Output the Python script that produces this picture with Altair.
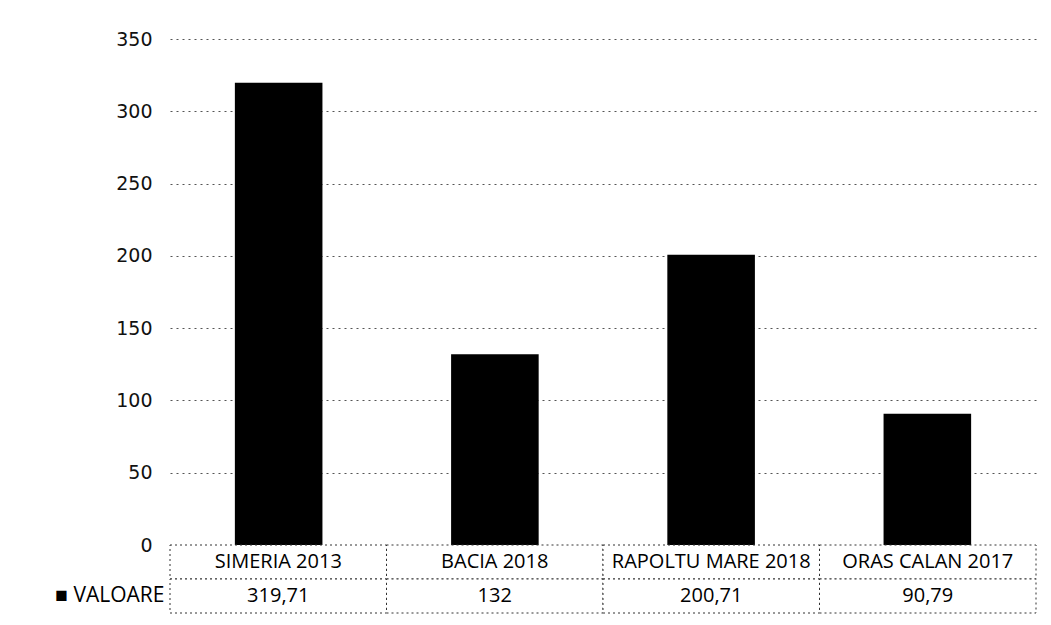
import altair as alt
import pandas as pd

categories = ["SIMERIA 2013", "BACIA 2018", "RAPOLTU MARE 2018", "ORAS CALAN 2017"]
values = [319.71, 132, 200.71, 90.79]
value_labels = ["319,71", "132", "200,71", "90,79"]
y_ticks = [0, 50, 100, 150, 200, 250, 300, 350]
series_name = "VALOARE"

FONT = "Liberation Sans Narrow, Open Sans, sans-serif"
NOVIEW = alt.ViewBackground(stroke="transparent", strokeWidth=0)

bars_df = pd.DataFrame({"cat": categories, "val": values})

xscale = alt.Scale(domain=categories, paddingInner=0.595, paddingOuter=0.3)

bars = alt.Chart(bars_df).mark_bar(color="#000000").encode(
    x=alt.X("cat:N", scale=xscale, axis=None, sort=categories),
    y=alt.Y("val:Q", scale=alt.Scale(domain=[0, 350], nice=False),
            axis=alt.Axis(values=y_ticks, title=None, ticks=False, domain=False,
                          labelFontSize=19, labelColor="#111", labelFont="DejaVu Sans",
                          labelPadding=18, grid=True, gridColor="#555",
                          gridDash=[2, 4], gridWidth=1)),
).properties(width=866, height=506, view=NOVIEW)

rows = []
for c, lab in zip(categories, value_labels):
    rows.append({"cat": c, "row": "cat", "txt": c})
    rows.append({"cat": c, "row": "val", "txt": lab})
table_df = pd.DataFrame(rows)

row_label_expr = "datum.value == 'val' ? '\u25A0 " + series_name + "' : ''"

tscale = alt.Scale(domain=categories, paddingInner=0, paddingOuter=0)
base = alt.Chart(table_df).encode(
    x=alt.X("cat:N", scale=tscale, axis=None, sort=categories),
    y=alt.Y("row:N", scale=alt.Scale(domain=["cat", "val"], paddingInner=0, paddingOuter=0),
            axis=alt.Axis(title=None, ticks=False, domain=False, labelExpr=row_label_expr,
                          labelFontSize=21, labelFont=FONT, labelColor="#000",
                          labelPadding=6)),
)
cells = base.mark_rect(fill="white", stroke="#333", strokeDash=[2, 3], strokeWidth=1)
texts = base.mark_text(font=FONT, fontSize=20, color="#000").encode(text="txt:N")
table = (cells + texts).properties(width=866, height=68, view=NOVIEW)

chart = alt.vconcat(bars, table, spacing=0, bounds="flush").configure_view(
    stroke="transparent", strokeWidth=0
).configure(
    padding={"left": 46, "top": 22, "right": 5, "bottom": 0}
)

chart.save("out.html", embed_options={"renderer": "svg", "actions": False})
